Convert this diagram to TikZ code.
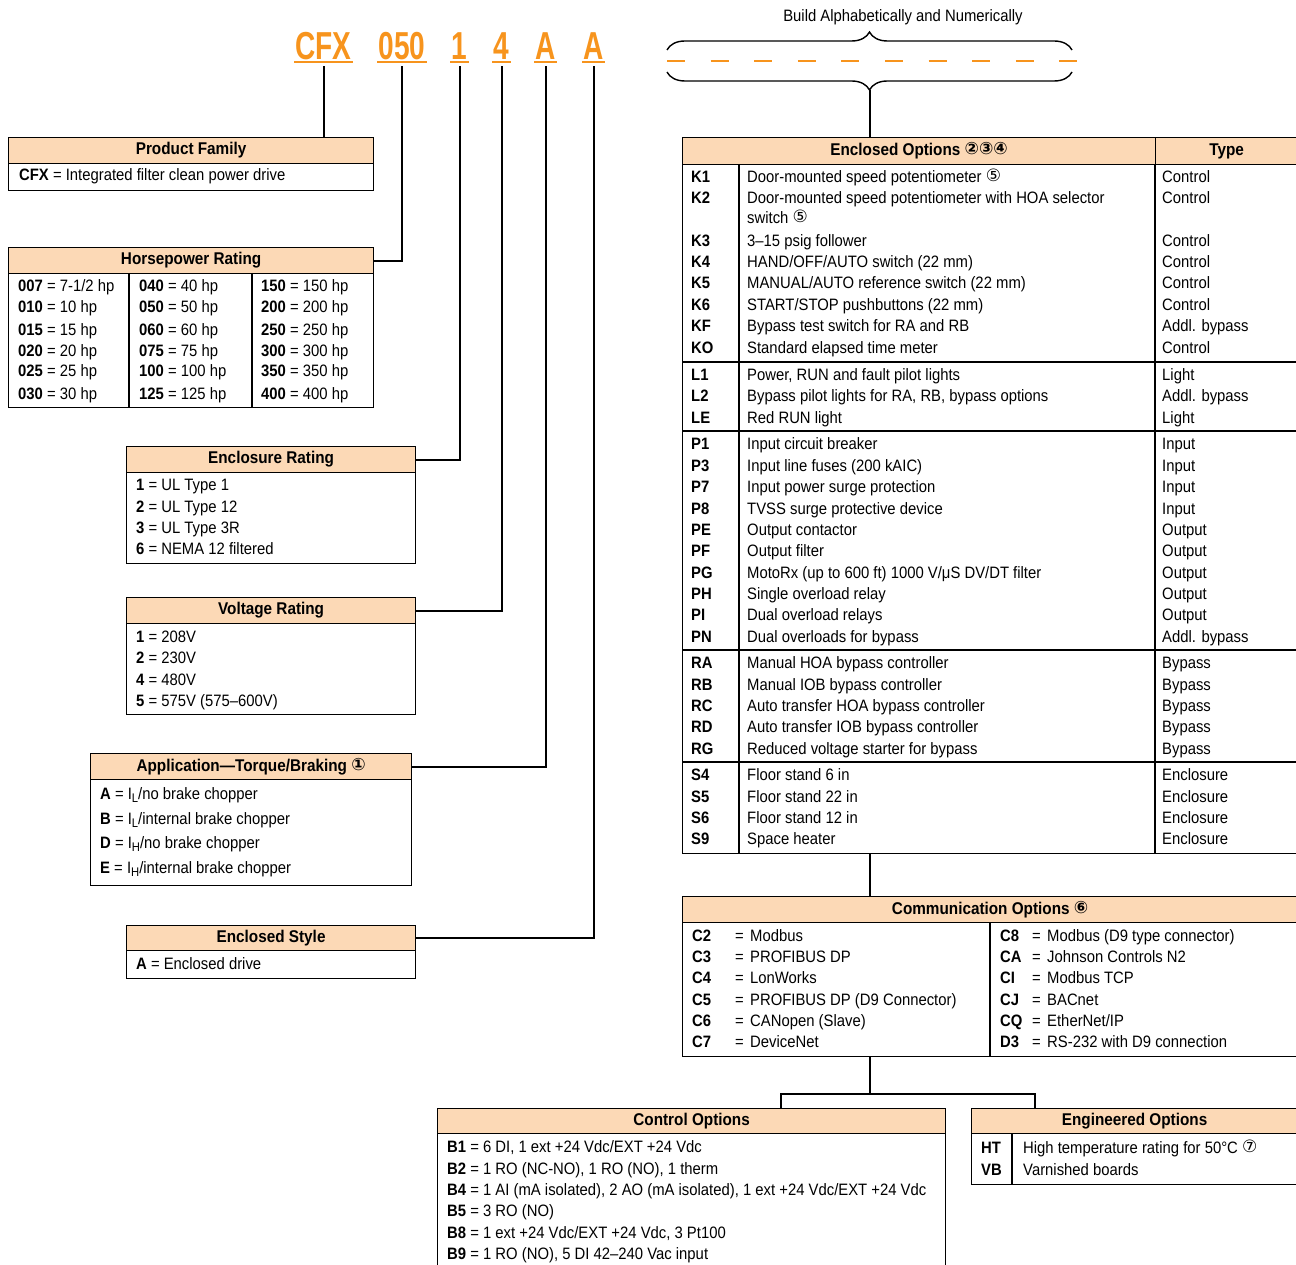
\documentclass[tikz,border=0pt]{standalone}
\usepackage{fontspec}
\setmainfont{Liberation Sans}[FakeStretch=0.9]
\newfontfamily\CFnaslov{Liberation Sans}[FakeStretch=0.72]
\newfontfamily\CFkrug{DejaVu Sans}
\usetikzlibrary{positioning,decorations.pathreplacing}
\definecolor{CFisticanje}{HTML}{F7941D}
\colorlet{CFnaranca}{CFisticanje}
\definecolor{CFzaglavlje}{HTML}{FCD9B6}
\newcommand{\krug}[1]{{\CFkrug\fontsize{17}{17}\selectfont\raisebox{1pt}{#1}}}
\newcommand{\ind}[1]{\raisebox{-3.5pt}{\fontsize{12.5}{13}\selectfont#1}}

\begin{document}
\begin{tikzpicture}[x=1pt,y=-1pt,font=\fontsize{16.5}{18}\selectfont,
 zagl/.style={draw,fill=CFzaglavlje,anchor=north west,inner sep=0pt,line width=1.2pt,font=\fontsize{17}{18}\selectfont\bfseries},
 okvir/.style={draw,anchor=north west,inner sep=0pt,line width=1.2pt},
 crta/.style={line width=1.2pt},
 redak/.style={anchor=west,inner sep=0pt,text height=12pt,text depth=0pt},
 slovo/.style={CFnaranca,font=\CFnaslov\fontsize{39}{40}\selectfont\bfseries,inner xsep=1pt,inner ysep=0pt,text height=28pt,text depth=0pt},
 veza/.style={line width=2pt}]
\useasboundingbox (0,0) rectangle (1296,1265);
% ordering code
\node[slovo] (cfx) at (323.5,46) {CFX};
\node[slovo] (hp) at (402,46) {050};
\node[slovo] (enc) at (459.5,46) {1};
\node[slovo] (volt) at (501.5,46) {4};
\node[slovo] (app) at (545.5,46) {A};
\node[slovo] (sty) at (593.5,46) {A};
\foreach \n in {cfx,hp,enc,volt,app,sty}{\draw[CFnaranca,line width=2.2pt] ([yshift=-2pt]\n.south west)--([yshift=-2pt]\n.south east);}

% left column
\node[zagl,minimum width=365pt,minimum height=26pt] (pfz) at (8,137) {Product Family};
\node[okvir,minimum width=365pt,minimum height=27pt] (pfo) at (8,163) {};
\node[redak] at (19,175) {\textbf{CFX} = Integrated filter clean power drive};

\node[zagl,minimum width=365pt,minimum height=26pt] (hpz) at (8,247) {Horsepower Rating};
\node[okvir,minimum width=365pt,minimum height=134pt] (hpo) at (8,273) {};
\draw[crta] (129,273)--(129,407) (252,273)--(252,407);
\foreach \x/\y/\k/\lab in {18/286/007/{7-1/2 hp},18/307/010/{10 hp},18/329/015/{15 hp},18/350/020/{20 hp},18/371/025/{25 hp},18/393/030/{30 hp},
 139/286/040/{40 hp},139/307/050/{50 hp},139/329/060/{60 hp},139/350/075/{75 hp},139/371/100/{100 hp},139/393/125/{125 hp},
 261/286/150/{150 hp},261/307/200/{200 hp},261/329/250/{250 hp},261/350/300/{300 hp},261/371/350/{350 hp},261/393/400/{400 hp}}{
 \node[redak] at (\x,\y) {\textbf{\k} = \lab};
}

\node[zagl,minimum width=289pt,minimum height=26pt] (enz) at (126,446) {Enclosure Rating};
\node[okvir,minimum width=289pt,minimum height=91pt] (eno) at (126,472) {};
\foreach \y/\k/\lab in {484/1/{UL Type 1},506/2/{UL Type 12},527/3/{UL Type 3R},548/6/{NEMA 12 filtered}}{
 \node[redak] at (136,\y) {\textbf{\k} = \lab};
}

\node[zagl,minimum width=289pt,minimum height=26pt] (vrz) at (126,597) {Voltage Rating};
\node[okvir,minimum width=289pt,minimum height=91pt] (vro) at (126,623) {};
\foreach \y/\k/\lab in {636/1/{208V},657/2/{230V},679/4/{480V},700/5/{575V (575--600V)}}{
 \node[redak] at (136,\y) {\textbf{\k} = \lab};
}

\node[zagl,minimum width=321pt,minimum height=26pt] (apz) at (90,753) {Application---Torque/Braking \krug{①}};
\node[okvir,minimum width=321pt,minimum height=106pt] (apo) at (90,779) {};
\foreach \y/\k/\lab in {793/A/{I\ind{L}/no brake chopper},818/B/{I\ind{L}/internal brake chopper},842/D/{I\ind{H}/no brake chopper},867/E/{I\ind{H}/internal brake chopper}}{
 \node[redak] at (100,\y) {\textbf{\k} = \lab};
}

\node[zagl,minimum width=289pt,minimum height=25pt] (esz) at (126,925) {Enclosed Style};
\node[okvir,minimum width=289pt,minimum height=28pt] (eso) at (126,950) {};
\node[redak] at (136,963) {\textbf{A} = Enclosed drive};

% connectors from the code
\draw[veza] ([yshift=-6pt]cfx.south) -- (cfx.south |- pfz.north);
\draw[veza] ([yshift=-6pt]hp.south) |- (hpz.east);
\draw[veza] ([yshift=-6pt]enc.south) |- (enz.east);
\draw[veza] ([yshift=-6pt]volt.south) |- (vrz.east);
\draw[veza] ([yshift=-6pt]app.south) |- (apz.east);
\draw[veza] ([yshift=-6pt]sty.south) |- (esz.east);

% options field
\node (gradi) at (903,17) {Build Alphabetically and Numerically};
\draw[line width=1.4pt,decorate,decoration={brace,amplitude=18pt}] (667,50) -- (1072,50);
\draw[CFnaranca,line width=2.2pt,dash pattern=on 18pt off 25.6pt] (667,61)--(1077,61);
\draw[line width=1.4pt,decorate,decoration={brace,amplitude=18pt}] (1072,72) -- (667,72);
\coordinate (vrh) at (869.5,90);

\node[zagl,minimum width=473pt,minimum height=27pt] (eoz) at (682,137) {Enclosed Options \krug{②③④}};
\node[zagl,minimum width=142pt,minimum height=27pt] (tipz) at (1155,137) {Type};
\node[okvir,minimum width=615pt,minimum height=689pt] (eoo) at (682,164) {};
\draw[crta] (739,164)--(739,853) (1155,164)--(1155,853);
\foreach \y in {362,431,650,762}{\draw[crta] (682,\y)--(1297,\y);}
\foreach \k/\d/\t/\y in {K1/{Door-mounted speed potentiometer \krug{⑤}}/Control/177,
 K2/{Door-mounted speed potentiometer with HOA selector}/Control/198,
 /{switch \krug{⑤}}//218,
 K3/{3--15 psig follower}/Control/241,
 K4/{HAND/OFF/AUTO switch (22 mm)}/Control/262,
 K5/{MANUAL/AUTO reference switch (22 mm)}/Control/283,
 K6/{START/STOP pushbuttons (22 mm)}/Control/305,
 KF/{Bypass test switch for RA and RB}/{Addl. bypass}/326,
 KO/{Standard elapsed time meter}/Control/347,
 L1/{Power, RUN and fault pilot lights}/Light/374,
 L2/{Bypass pilot lights for RA, RB, bypass options}/{Addl. bypass}/395,
 LE/{Red RUN light}/Light/417,
 P1/{Input circuit breaker}/Input/443,
 P3/{Input line fuses (200 kAIC)}/Input/465,
 P7/{Input power surge protection}/Input/486,
 P8/{TVSS surge protective device}/Input/508,
 PE/{Output contactor}/Output/529,
 PF/{Output filter}/Output/550,
 PG/{MotoRx (up to 600 ft) 1000 V/μS DV/DT filter}/Output/572,
 PH/{Single overload relay}/Output/593,
 PI/{Dual overload relays}/Output/614,
 PN/{Dual overloads for bypass}/{Addl. bypass}/636,
 RA/{Manual HOA bypass controller}/Bypass/662,
 RB/{Manual IOB bypass controller}/Bypass/684,
 RC/{Auto transfer HOA bypass controller}/Bypass/705,
 RD/{Auto transfer IOB bypass controller}/Bypass/726,
 RG/{Reduced voltage starter for bypass}/Bypass/748,
 S4/{Floor stand 6 in}/Enclosure/774,
 S5/{Floor stand 22 in}/Enclosure/796,
 S6/{Floor stand 12 in}/Enclosure/817,
 S9/{Space heater}/Enclosure/838}{
 \node[redak] at (691,\y) {\textbf{\k}};
 \node[redak] at (747,\y) {\d};
 \node[redak] at (1162,\y) {\t};
}

\node[zagl,minimum width=615pt,minimum height=26pt] (coz) at (682,896) {Communication Options \krug{⑥}};
\node[okvir,minimum width=615pt,minimum height=134pt] (coo) at (682,922) {};
\draw[crta] (990,922)--(990,1056);
\foreach \y/\ka/\la/\kb/\lb in {935/C2/{Modbus}/C8/{Modbus (D9 type connector)},
 956/C3/{PROFIBUS DP}/CA/{Johnson Controls N2},
 977/C4/{LonWorks}/CI/{Modbus TCP},
 999/C5/{PROFIBUS DP (D9 Connector)}/CJ/{BACnet},
 1020/C6/{CANopen (Slave)}/CQ/{EtherNet/IP},
 1041/C7/{DeviceNet}/D3/{RS-232 with D9 connection}}{
 \node[redak] at (692,\y) {\textbf{\ka}};
 \node[redak] at (735,\y) {=};
 \node[redak] at (750,\y) {\la};
 \node[redak] at (1000,\y) {\textbf{\kb}};
 \node[redak] at (1032,\y) {=};
 \node[redak] at (1047,\y) {\lb};
}

\node[zagl,minimum width=508pt,minimum height=25pt] (ctz) at (437,1108) {Control Options};
\node[okvir,minimum width=508pt,minimum height=160pt] (cto) at (437,1133) {};
\foreach \y/\k/\lab in {1146/B1/{6 DI, 1 ext +24 Vdc/EXT +24 Vdc},
 1168/B2/{1 RO (NC-NO), 1 RO (NO), 1 therm},
 1189/B4/{1 AI (mA isolated), 2 AO (mA isolated), 1 ext +24 Vdc/EXT +24 Vdc},
 1210/B5/{3 RO (NO)},
 1232/B8/{1 ext +24 Vdc/EXT +24 Vdc, 3 Pt100},
 1253/B9/{1 RO (NO), 5 DI 42--240 Vac input}}{
 \node[redak] at (447,\y) {\textbf{\k} = \lab};
}

\node[zagl,minimum width=326pt,minimum height=25pt] (egz) at (971,1108) {Engineered Options};
\node[okvir,minimum width=326pt,minimum height=51pt] (ego) at (971,1133) {};
\draw[crta] (1012,1133)--(1012,1184);
\node[redak] at (981,1147) {\textbf{HT}};
\node[redak] at (1023,1147) {High temperature rating for 50°C \krug{⑦}};
\node[redak] at (981,1169) {\textbf{VB}};
\node[redak] at (1023,1169) {Varnished boards};

% connectors on the right
\draw[veza] (vrh) -- (vrh |- eoz.north);
\draw[veza] (vrh |- eoo.south) -- (vrh |- coz.north);
\draw[veza] (vrh |- coo.south) -- ++(0,37) coordinate (grana);
\draw[veza] ([xshift=344pt]ctz.north west) |- (grana) -| ([xshift=64pt]egz.north west);
\end{tikzpicture}
\end{document}
